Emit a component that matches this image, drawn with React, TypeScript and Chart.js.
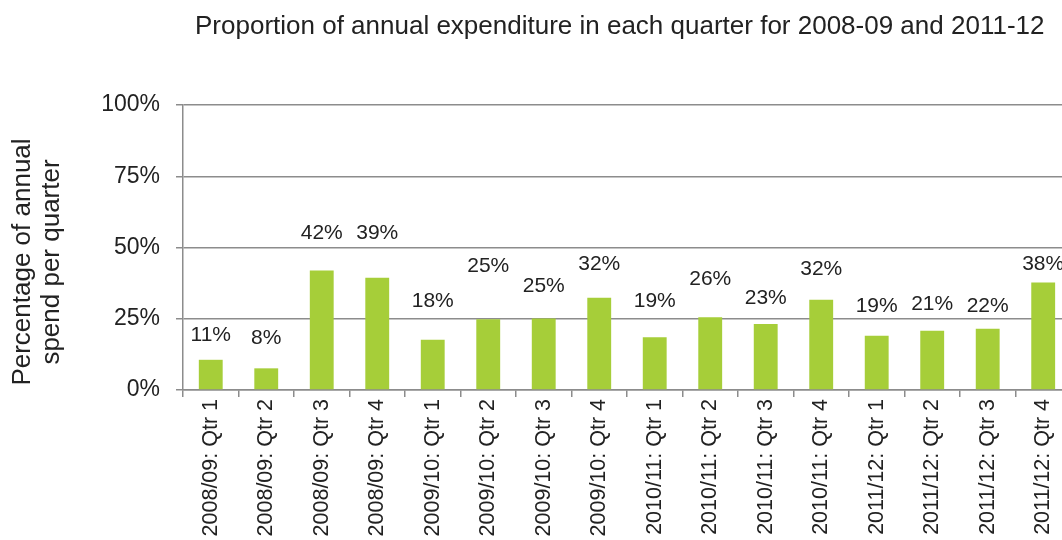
import React, { useEffect, useRef } from 'react';
import { Chart, registerables } from 'chart.js';

Chart.register(...registerables);

const chartTitle = 'Proportion of annual expenditure in each quarter for 2008-09 and 2011-12';
const yAxisTitle = ['Percentage of annual', 'spend per quarter'];

const categories = [
  '2008/09: Qtr 1', '2008/09: Qtr 2', '2008/09: Qtr 3', '2008/09: Qtr 4',
  '2009/10: Qtr 1', '2009/10: Qtr 2', '2009/10: Qtr 3', '2009/10: Qtr 4',
  '2010/11: Qtr 1', '2010/11: Qtr 2', '2010/11: Qtr 3', '2010/11: Qtr 4',
  '2011/12: Qtr 1', '2011/12: Qtr 2', '2011/12: Qtr 3', '2011/12: Qtr 4',
];

// percentage of annual spend per quarter
const shares = [10.6, 7.6, 41.9, 39.4, 17.6, 24.8, 25.1, 32.4, 18.5, 25.5, 23.2, 31.7, 19.0, 20.8, 21.5, 37.7];

const yTicks = [0, 25, 50, 75, 100];

// how far (px) each value label sits above its bar top
const labelLift = [25, 30.5, 37, 44.5, 38.5, 52.7, 32.7, 33.5, 36.5, 37.7, 25.5, 30.5, 30, 26.5, 23, 18.5];

const FONT = '"Liberation Sans", Arial, sans-serif';
const TEXT = '#222222';
const GRID = '#8c8c8c';
const BAR = '#a6ce39';

const W = 1071;
const H = 540;

const decorPlugin = {
  id: 'decor',
  afterDraw(chart: any) {
    const ctx = chart.ctx;
    ctx.save();
    ctx.fillStyle = TEXT;
    // title
    ctx.font = `26px ${FONT}`;
    ctx.textAlign = 'left';
    ctx.textBaseline = 'alphabetic';
    ctx.fillText(chartTitle, 195, 34);
    // y axis title
    ctx.save();
    ctx.translate(0, 262);
    ctx.rotate(-Math.PI / 2);
    ctx.textAlign = 'center';
    ctx.font = `26px ${FONT}`;
    ctx.fillText(yAxisTitle[0], 0, 30);
    ctx.fillText(yAxisTitle[1], 0, 59);
    ctx.restore();
    // value labels
    const meta = chart.getDatasetMeta(0);
    ctx.font = `21px ${FONT}`;
    ctx.textAlign = 'center';
    ctx.textBaseline = 'middle';
    meta.data.forEach((el: any, i: number) => {
      const v = shares[i];
      ctx.fillText(`${Math.round(v)}%`, el.x, el.y - labelLift[i]);
    });
    ctx.restore();
  },
};

export default function App() {
  const ref = useRef<HTMLCanvasElement | null>(null);

  useEffect(() => {
    if (!ref.current) return;
    const chart = new Chart(ref.current, {
      type: 'bar',
      data: {
        labels: categories,
        datasets: [
          {
            data: shares,
            backgroundColor: BAR,
            borderWidth: 0,
            barPercentage: 0.43,
            categoryPercentage: 1,
          },
        ],
      },
      options: {
        responsive: false,
        animation: false,
        devicePixelRatio: 1,
        layout: { padding: { top: 105, left: 0, right: 0, bottom: 0 } },
        plugins: {
          legend: { display: false },
          tooltip: { enabled: false },
          title: { display: false },
        },
        scales: {
          x: {
            type: 'category',
            grid: {
              drawOnChartArea: false,
              drawTicks: true,
              tickLength: 7,
              color: GRID,
              lineWidth: 1.5,
              offset: true,
            },
            border: { color: GRID, width: 1.5 },
            ticks: {
              minRotation: 90,
              maxRotation: 90,
              autoSkip: false,
              padding: 2,
              color: TEXT,
              font: { family: FONT, size: 21.5 },
            },
            afterFit: (s: any) => {
              s.height = 150;
            },
          },
          y: {
            min: 0,
            max: 100,
            afterBuildTicks: (s: any) => {
              s.ticks = yTicks.map((v) => ({ value: v }));
            },
            ticks: {
              padding: 16,
              color: TEXT,
              font: { family: FONT, size: 23 },
              callback: (v: any) => `${v}%`,
            },
            grid: { color: GRID, lineWidth: 1.5, tickLength: 7, drawTicks: true },
            border: { color: GRID, width: 1.5 },
            afterFit: (s: any) => {
              s.width = 183;
            },
          },
        },
      },
      plugins: [decorPlugin],
    });
    return () => chart.destroy();
  }, []);

  return (
    <div
      style={{
        position: 'fixed',
        left: 0,
        top: 0,
        width: 1062,
        height: 540,
        overflow: 'hidden',
        background: '#ffffff',
      }}
    >
      <canvas ref={ref} width={W} height={H} style={{ display: 'block', width: W, height: H }} />
    </div>
  );
}
